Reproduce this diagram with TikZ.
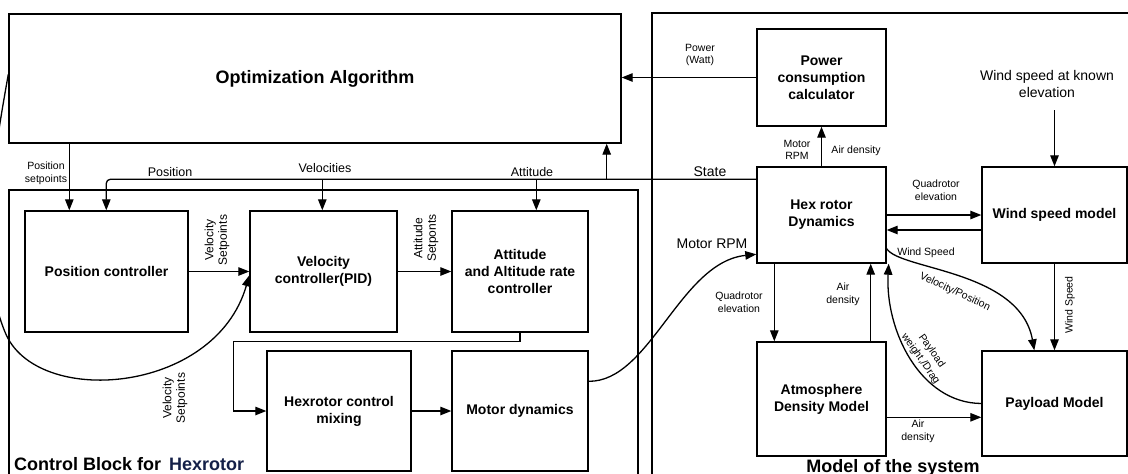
\documentclass[tikz,border=0pt]{standalone}
\usepackage{fontspec}
\setmainfont{Liberation Sans}
\usetikzlibrary{arrows.meta,calc}
\definecolor{navy}{RGB}{20,32,72}
\begin{document}
\begin{tikzpicture}[x=1pt,y=-1pt,
  box/.style={draw, line width=1.4pt, inner sep=2pt, align=center, font=\bfseries\fontsize{14}{17}\selectfont},
  arr/.style={line width=1.3pt, -{Triangle[length=11pt,width=8.5pt]}},
  wire/.style={line width=1.3pt},
  panel/.style={draw, line width=1.3pt},
  sm/.style={font=\fontsize{10.5}{12.7}\selectfont, align=center, inner sep=0pt},
  md/.style={font=\fontsize{12.5}{14}\selectfont, align=center, inner sep=0pt},
  lg/.style={font=\fontsize{14}{17}\selectfont, align=center, inner sep=0pt},
  rot/.style={font=\fontsize{12}{13.5}\selectfont, align=center, inner sep=0pt, rotate=90},
  titletext/.style={font=\bfseries\fontsize{18}{20}\selectfont, inner sep=0pt}]
\fill[white] (0,0) rectangle (1128,474);
\useasboundingbox (0,0) rectangle (1128,474);

% panels
\draw[panel] (9,190) rectangle (638,500);
\draw[panel] (652,13) rectangle (1140,500);

% boxes
\node[box, minimum width=612, minimum height=129, font=\bfseries\fontsize{18}{20}\selectfont] (opt) at (315,78.5) {Optimization Algorithm};
\node[box, minimum width=163, minimum height=121] (pos) at (106.5,271.5) {Position controller};
\node[box, minimum width=147, minimum height=121] (vel) at (323.5,271.5) {Velocity\\controller(PID)};
\node[box, minimum width=136, minimum height=121] (att) at (520,271.5) {Attitude\\and Altitude rate\\controller};
\node[box, minimum width=144, minimum height=120] (mix) at (339,411) {Hexrotor control\\mixing};
\node[box, minimum width=136, minimum height=120] (mot) at (520,411) {Motor dynamics};
\node[box, minimum width=129, minimum height=97] (pow) at (821.5,77.5) {Power\\consumption\\calculator};
\node[box, minimum width=129, minimum height=96] (hex) at (821.5,215) {Hex rotor\\Dynamics};
\node[box, minimum width=145, minimum height=96] (wind) at (1054.5,215) {Wind speed model};
\node[box, minimum width=129, minimum height=114] (atm) at (821.5,399) {Atmosphere\\Density Model};
\node[box, minimum width=145, minimum height=105] (pay) at (1054.5,403.5) {Payload Model};

% titles
\node[titletext, anchor=base west] (cbt) at (14,470) {Control Block for \,{\color{navy}Hexrotor}};
\node[titletext, anchor=base] (mst) at (893,472) {Model of the system};

% helper coordinates
\coordinate (fb) at ([yshift=-13pt]hex.north west);
\coordinate (ptap) at ([xshift=82pt]pos.north west);
\coordinate (vtap) at ([xshift=73pt]vel.north west);
\coordinate (atap) at ([xshift=85pt]att.north west);
\coordinate (otap) at ([xshift=-15pt]opt.south east);

% optimization -> position controller
\draw[arr] ([xshift=61pt]opt.south west) -- ([xshift=45pt]pos.north west);
\node[sm] (lps) at (46,173) {Position\\setpoints};

% state feedback line
\draw[arr, rounded corners=4pt] (fb) -| (ptap);
\draw[arr] (vtap |- fb) -- (vtap);
\draw[arr] (atap |- fb) -- (atap);
\draw[arr] (otap |- fb) -- (otap);
\node[md] (lpos) at (170,172) {Position};
\node[md] (lvel) at (325,168) {Velocities};
\node[md] (latt) at (532,172) {Attitude};
\node[lg] (lstate) at (710,172) {State};

% controller chain
\draw[arr] (pos.east) -- (vel.west);
\node[rot] (lvs1) at (217,240) {Velocity\\Setpoints};
\draw[arr] (vel.east) -- (att.west);
\node[rot] (las) at (426,238) {Attitude\\Setponts};
\coordinate (mx) at ([xshift=-33pt]mix.west);
\draw[arr] (att.south) -- ++(0,9) -| (mx) -- (mix.west);
\draw[arr] (mix.east) -- (mot.west);

% motor dynamics -> hex rotor dynamics
\draw[arr] ([yshift=-31pt]mot.north east) .. controls (650,382) and (680,262) .. ([yshift=-88pt]hex.north west);
\node[lg] (lmrpm) at (712,244) {Motor RPM};

% big feedback curve to velocity controller
\draw[arr] ([yshift=-61pt]opt.north west) .. controls (-5,150) and (-25,260) .. (5,332)
  .. controls (35,408) and (215,395) .. ([yshift=-65pt]vel.north west);
\node[rot] (lvs2) at (175,398) {Velocity\\Setpoints};

% power
\draw[arr] (pow.west) -- (pow.west -| opt.east);
\node[sm] (lpw) at (700,55) {Power\\(Watt)};
\draw[arr] (hex.north) -- (pow.south);
\node[sm] (lmr) at (797,150) {Motor\\RPM};
\node[sm] (lad1) at (856,151) {Air density};

% wind
\node[lg] (wtxt) at (1047,84) {Wind speed at known\\elevation};
\coordinate (wtop) at (1054.5,110);
\draw[arr] (wtop) -- (wind.north);
\draw[arr] (hex.east) -- (wind.west);
\node[sm] (lqe1) at (936,190) {Quadrotor\\elevation};
\draw[arr] ([yshift=-15pt]wind.west) -- ([yshift=-15pt]hex.east);
\node[sm] (lws1) at (926,253) {Wind Speed};
\draw[arr] (wind.south) -- (pay.north);
\node[sm, rotate=90] (lws2) at (1070,305) {Wind Speed};

% atmosphere
\draw[arr] ([xshift=18pt]hex.south west) -- ([xshift=18pt]atm.north west);
\node[sm] (lqe2) at (739,302) {Quadrotor\\elevation};
\draw[arr] ([xshift=-16pt]atm.north east) -- ([xshift=-16pt]hex.south east);
\node[sm] (lad2) at (843,294) {Air\\density};
\coordinate (ap) at ([yshift=-76pt]atm.north east);
\draw[arr] (ap) -- (ap -| pay.west);
\node[sm] (lad3) at (918,431) {Air\\density};

% payload curves
\draw[arr] ([yshift=15pt]hex.south east) .. controls (900,270) and (1020,270) .. ([xshift=53pt]pay.north west);
\node[sm, rotate=-25] (lvp) at (955,292) {Velocity/Position};
\draw[arr] (pay.west) .. controls (920,403) and (885,330) .. ([xshift=2pt]hex.south east);
\node[sm, rotate=-55, font=\fontsize{10.5}{13.5}\selectfont] (lpwd) at (926,355) {Payload\\weight,/Drag};
\end{tikzpicture}
\end{document}
